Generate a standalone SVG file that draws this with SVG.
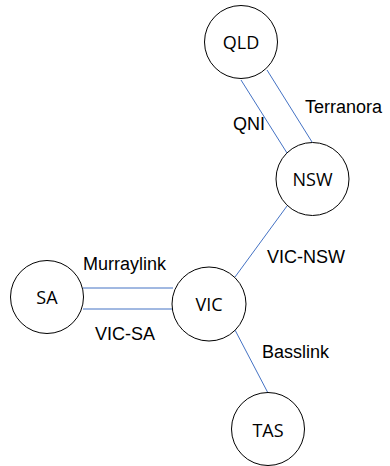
<svg xmlns="http://www.w3.org/2000/svg" width="390" height="466" viewBox="0 0 390 466">
<style>
.node circle{fill:#fff;stroke:#000;stroke-width:1}
.node text{font-family:"Open Sans","Noto Sans",sans-serif;font-size:18px;text-anchor:middle;fill:#000}
.edge line{stroke:#4472C4;stroke-width:1}
.lbl{font-family:"Liberation Sans",Arial,sans-serif;font-size:18px;fill:#000}
</style>
<rect width="390" height="466" fill="#fff"/>
<g id="connectors" class="edge">
<line x1="241" y1="80" x2="287" y2="153"/>
<line x1="267" y1="70" x2="312" y2="142"/>
<line x1="287" y1="206" x2="235" y2="277"/>
<line x1="83" y1="288" x2="173" y2="288"/>
<line x1="83" y1="309" x2="173" y2="309"/>
<line x1="235" y1="330" x2="268" y2="393"/>
</g>
<g id="edge-labels">
<text class="lbl" x="305" y="113">Terranora</text>
<text class="lbl" x="233" y="130">QNI</text>
<text class="lbl" x="267" y="263">VIC-NSW</text>
<text class="lbl" x="83" y="270">Murraylink</text>
<text class="lbl" x="95" y="340">VIC-SA</text>
<text class="lbl" x="262" y="358">Basslink</text>
</g>
<g id="QLD" class="node"><circle cx="241" cy="42" r="36.5"/><text x="241" y="49">QLD</text></g>
<g id="NSW" class="node"><circle cx="312.5" cy="179" r="36.5"/><text x="312.5" y="186">NSW</text></g>
<g id="SA" class="node"><circle cx="47" cy="297" r="36.5"/><text x="47" y="304">SA</text></g>
<g id="VIC" class="node"><circle cx="209" cy="304" r="37"/><text x="209" y="311">VIC</text></g>
<g id="TAS" class="node"><circle cx="268" cy="429" r="36.5"/><text x="268" y="437">TAS</text></g>
</svg>
